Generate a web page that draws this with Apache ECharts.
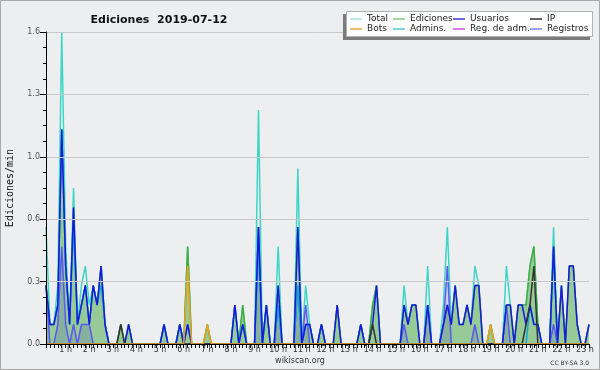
<!DOCTYPE html>
<html><head><meta charset="utf-8">
<script src="https://cdn.jsdelivr.net/npm/echarts@6/dist/echarts.min.js"></script>
<style>html,body{margin:0;padding:0;background:#edeef0}#c{width:600px;height:370px}</style>
</head><body><div id="c"></div>
<script>
// 10-minute bins from 00:00 to 23:00 (139 points)
const times = [];
for (let h = 0; h <= 23; h++) for (let m = 0; m < 60; m += 10) { if (h === 23 && m > 0) break; times.push(String(h).padStart(2,'0') + ':' + String(m).padStart(2,'0')); }

const total = [
 0.6,0.1,0.1,0.3,1.6,0.5,0.1,0.8,0.1,0.3,0.4,0.2,
 0.3,0.2,0.4,0.1,0,0,0,0.1,0,0.1,0,0,
 0,0,0,0,0,0,0.1,0,0,0,0.1,0,
 0.5,0,0,0,0,0.1,0,0,0,0,0,0,
 0.2,0,0.2,0,0,0,1.2,0,0.2,0,0,0.5,
 0,0,0,0,0.9,0,0.3,0.1,0,0,0.1,0,
 0,0,0.2,0,0,0,0,0,0.1,0,0,0.2,
 0.3,0,0,0,0,0,0,0.3,0.1,0.2,0.2,0,
 0,0.4,0,0,0,0.2,0.6,0.1,0.3,0.1,0.1,0.2,
 0.1,0.4,0.3,0,0,0.1,0,0,0,0.4,0.2,0,
 0.2,0.2,0.2,0.4,0.5,0.1,0,0,0,0.6,0,0.3,
 0,0.4,0.4,0.1,0,0,0.1];
const ediciones = [
 0.3,0.1,0.1,0.2,1.1,0.4,0.1,0.7,0.1,0.2,0.3,0.1,
 0.3,0.2,0.4,0.1,0,0,0,0.1,0,0.1,0,0,
 0,0,0,0,0,0,0.1,0,0,0,0.1,0,
 0.5,0,0,0,0,0.1,0,0,0,0,0,0,
 0.2,0,0.2,0,0,0,0.6,0,0.2,0,0,0.3,
 0,0,0,0,0.6,0,0.1,0.1,0,0,0.1,0,
 0,0,0.2,0,0,0,0,0,0.1,0,0,0.2,
 0.3,0,0,0,0,0,0,0.2,0.1,0.2,0.2,0,
 0,0.2,0,0,0,0.1,0.2,0.1,0.3,0.1,0.1,0.2,
 0.1,0.3,0.3,0,0,0.1,0,0,0,0.2,0.2,0,
 0.2,0.2,0.2,0.4,0.5,0.1,0,0,0,0.5,0,0.3,
 0,0.4,0.4,0.1,0,0,0.1];
const usuarios = [
 0.3,0.1,0.1,0.2,1.1,0.4,0.1,0.7,0.1,0.2,0.3,0.1,
 0.3,0.2,0.4,0.1,0,0,0,0,0,0.1,0,0,
 0,0,0,0,0,0,0.1,0,0,0,0.1,0,
 0.1,0,0,0,0,0,0,0,0,0,0,0,
 0.2,0,0.1,0,0,0,0.6,0,0.2,0,0,0.3,
 0,0,0,0,0.6,0,0.1,0.1,0,0,0.1,0,
 0,0,0.2,0,0,0,0,0,0.1,0,0,0.1,
 0.3,0,0,0,0,0,0,0.2,0.1,0.2,0.2,0,
 0,0.2,0,0,0,0.1,0.2,0.1,0.3,0.1,0.1,0.2,
 0.1,0.3,0.3,0,0,0,0,0,0,0.2,0.2,0,
 0.2,0.2,0.1,0.2,0.1,0.1,0,0,0,0.5,0,0.3,
 0,0.4,0.4,0.1,0,0,0.1];
const ip = [
 0,0,0,0,0,0,0,0,0,0,0,0,
 0,0,0,0,0,0,0,0.1,0,0,0,0,
 0,0,0,0,0,0,0,0,0,0,0,0,
 0,0,0,0,0,0,0,0,0,0,0,0,
 0,0,0,0,0,0,0,0,0,0,0,0,
 0,0,0,0,0,0,0,0,0,0,0,0,
 0,0,0,0,0,0,0,0,0,0,0,0.1,
 0,0,0,0,0,0,0,0,0,0,0,0,
 0,0,0,0,0,0,0,0,0,0,0,0,
 0,0,0,0,0,0,0,0,0,0,0,0,
 0,0,0.1,0.2,0.4,0,0,0,0,0,0,0,
 0,0,0,0,0,0,0];
const bots = [
 0,0,0,0,0,0,0,0,0,0,0,0,
 0,0,0,0,0,0,0,0,0,0,0,0,
 0,0,0,0,0,0,0,0,0,0,0,0,
 0.4,0,0,0,0,0.1,0,0,0,0,0,0,
 0,0,0,0,0,0,0,0,0,0,0,0,
 0,0,0,0,0,0,0,0,0,0,0,0,
 0,0,0,0,0,0,0,0,0,0,0,0,
 0,0,0,0,0,0,0,0,0,0,0,0,
 0,0,0,0,0,0,0,0,0,0,0,0,
 0,0,0,0,0,0.1,0,0,0,0,0,0,
 0,0,0,0,0,0,0,0,0,0,0,0,
 0,0,0,0,0,0,0];
const admins = [
 0.3,0.1,0.1,0.2,1.1,0.4,0.1,0.6,0.1,0.2,0.3,0.1,
 0.3,0.2,0.3,0.1,0,0,0,0,0,0,0,0,
 0,0,0,0,0,0,0.1,0,0,0,0.1,0,
 0.1,0,0,0,0,0,0,0,0,0,0,0,
 0.2,0,0.1,0,0,0,0.5,0,0.2,0,0,0.2,
 0,0,0,0,0.3,0,0.1,0.1,0,0,0.1,0,
 0,0,0,0,0,0,0,0,0.1,0,0,0,
 0,0,0,0,0,0,0,0,0,0,0,0,
 0,0,0,0,0,0,0,0,0,0,0,0,
 0,0,0,0,0,0,0,0,0,0,0,0,
 0,0,0,0.2,0.1,0.1,0,0,0,0.5,0,0,
 0,0,0,0,0,0,0];
const regAdm = [
 0,0,0,0,0,0,0,0,0,0,0,0,
 0,0,0,0,0,0,0,0,0,0,0,0,
 0,0,0,0,0,0,0,0,0,0,0,0,
 0,0,0,0,0,0,0,0,0,0,0,0,
 0,0,0,0,0,0,0,0,0,0,0,0,
 0,0,0,0,0,0,0,0,0,0,0,0,
 0,0,0,0,0,0,0,0,0,0,0,0,
 0,0,0,0,0,0,0,0,0,0,0,0,
 0,0,0,0,0,0,0,0,0,0,0,0,
 0,0,0,0,0,0,0,0,0,0,0,0,
 0,0,0,0,0,0,0,0,0,0,0,0,
 0,0,0,0,0,0,0];
const registros = [
 0.3,0,0,0.1,0.5,0.1,0,0.1,0,0.1,0.1,0.1,
 0,0,0,0,0,0,0,0,0,0,0,0,
 0,0,0,0,0,0,0,0,0,0,0,0,
 0,0,0,0,0,0,0,0,0,0,0,0,
 0,0,0,0,0,0,0.6,0,0,0,0,0.2,
 0,0,0,0,0.3,0,0.2,0,0,0,0,0,
 0,0,0,0,0,0,0,0,0,0,0,0,
 0,0,0,0,0,0,0,0.1,0,0,0,0,
 0,0.2,0,0,0,0.1,0.4,0,0,0,0,0,
 0,0.1,0,0,0,0,0,0,0,0.2,0,0,
 0,0,0,0,0,0,0,0,0,0.1,0,0,
 0,0,0,0,0,0,0];

const legendCols = [['Total','Bots'],['Ediciones','Admins.'],['Usuarios','Reg. de adm.'],['IP','Registros']];
const legendColors = {'Total':'#a6e6de','Ediciones':'#80cc80','Usuarios':'#3a3ae0','IP':'#333333','Bots':'#f0a040','Admins.':'#50c8e0','Reg. de adm.':'#d050e0','Registros':'#8080f0'};
const legendX = [350, 393, 453, 530];

const chart = echarts.init(document.getElementById('c'));
const F = 'DejaVu Sans';
function line(name, data, color, z, extra) {
  return Object.assign({name, type:'line', data, symbol:'none', color, z,
    lineStyle:{color, width:1.5}, emphasis:{disabled:true}}, extra||{});
}
chart.setOption({
  animation:false,
  backgroundColor:'#edeef0',
  title:{text:'Ediciones  2019-07-12', left:154, top:10, textAlign:'center',
    textStyle:{fontFamily:F, fontSize:11, fontWeight:'bold', color:'#111'}},
  graphic:[
    {type:'rect', shape:{x:0.5,y:0.5,width:599,height:369}, style:{fill:null, stroke:'#a8a8a8', lineWidth:1}, z:0},
    {type:'rect', shape:{x:343,y:14,width:247,height:26}, style:{fill:'#7a7a7a'}, z:20},
    {type:'rect', shape:{x:346.5,y:11.5,width:246,height:25}, style:{fill:'#ffffff', stroke:'#b0b0b0', lineWidth:1}, z:21},
    {type:'text', x:300, y:357, style:{text:'wikiscan.org', font:'8px "DejaVu Sans"', fill:'#333', textAlign:'center'}, z:22},
    {type:'text', x:589, y:360, style:{text:'CC BY-SA 3.0', font:'6px "DejaVu Sans"', fill:'#333', textAlign:'right'}, z:22}
  ],
  legend: legendCols.map((col, k) => ({
    orient:'vertical', left:legendX[k], top:14, padding:0, itemGap:0, z:30,
    itemWidth:12, itemHeight:1.5, icon:'rect', selectedMode:false,
    textStyle:{fontFamily:F, fontSize:9, color:'#222', lineHeight:10, padding:[0,0,0,0]},
    data: col.map(n => ({name:n, itemStyle:{color:legendColors[n]}}))
  })),
  grid:{left:46, right:11, top:32, bottom:26, outerBoundsMode:'none', containLabel:false},
  xAxis:{type:'category', data:times, boundaryGap:false, z:10,
    axisLine:{lineStyle:{color:'#000', width:1}},
    axisTick:{interval:0, length:4, lineStyle:{color:'#000'}},
    axisLabel:{interval:5, margin:2, fontFamily:F, fontSize:8, color:'#333', padding:[0,8,0,0],
      formatter:v => v === '00:00' ? '' : parseInt(v,10) + ' h'},
    splitLine:{show:false}},
  yAxis:{type:'value', min:0, max:1.6, interval:0.32, z:10,
    name:'Ediciones/min', nameLocation:'middle', nameGap:31, nameMoveOverlap:false,
    nameTextStyle:{fontFamily:'DejaVu Sans Mono', fontSize:10, color:'#111'},
    axisLine:{show:true, lineStyle:{color:'#000'}},
    axisTick:{show:true, length:6, lineStyle:{color:'#000'}},
    minorTick:{show:true, splitNumber:4, length:3, lineStyle:{color:'#000'}},
    axisLabel:{formatter:v => v.toFixed(1), fontFamily:F, fontSize:8, color:'#555', margin:6},
    splitLine:{lineStyle:{color:'#c9c9c9'}}},
  series:[
    line('Reg. de adm.', regAdm, '#d050e0', 2),
    line('Total', total, '#3cd6c6', 2),
    line('Ediciones', ediciones, '#3fae3f', 3, {areaStyle:{color:'#96ca96', opacity:1}}),
    line('Registros', registros, '#5a5af0', 4, {areaStyle:{color:'rgba(60,60,200,0.25)'}}),
    line('Admins.', admins, '#12a8d8', 5),
    line('Usuarios', usuarios, '#1818e0', 6),
    line('IP', ip, '#333333', 7),
    line('Bots', bots, '#f0a020', 8)
  ]
});
</script></body></html>
